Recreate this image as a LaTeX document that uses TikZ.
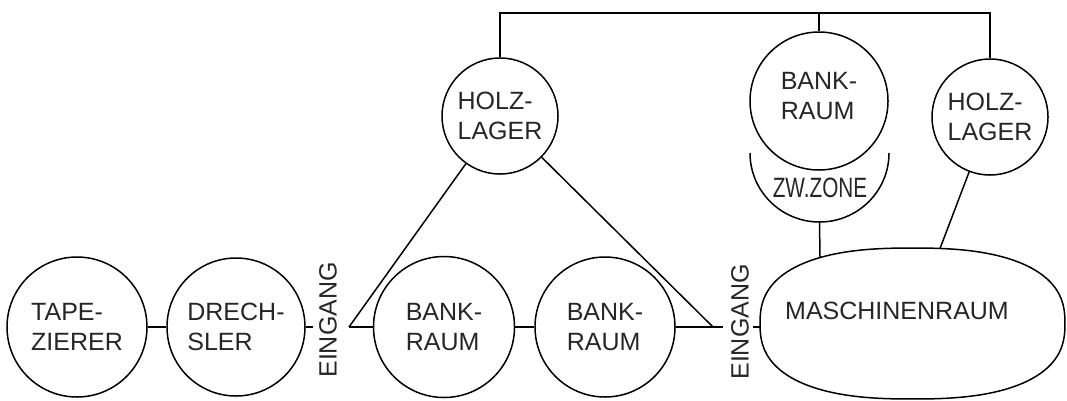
\documentclass[tikz,border=0pt]{standalone}
\usepackage{fontspec}
\setmainfont{Liberation Sans}
\newcommand\lettr{\fontsize{25}{30}\selectfont}
\begin{document}
\begin{tikzpicture}[x=1pt,y=-1pt,
  ln/.style={line width=1.5pt, black},
  room/.style={circle, draw, line width=1.5pt, inner sep=0pt, align=left, font=\lettr, text=black!85},
  lbl/.style={font=\lettr, inner sep=0pt, text=black!85}]
\useasboundingbox (0,0) rectangle (1067,400);
% rooms
\node[room, minimum size=140pt] (tap) at (77,327) {TAPE-\\ZIERER};
\node[room, minimum size=138pt] (dre) at (236,327) {DRECH-\\SLER};
\node[room, minimum size=141pt] (bk1) at (444,327) {BANK-\\RAUM};
\node[room, minimum size=140pt] (bk2) at (605,327) {BANK-\\RAUM};
\node[room, minimum size=116pt] (hl1) at (500,116) {HOLZ-\\LAGER};
\node[room, minimum size=138pt] (bk3) at (819,101) {};
\node[lbl, align=left] (bk3t) at (819,96) {BANK-\\RAUM};
\node[room, minimum size=116pt] (hl2) at (990,117) {HOLZ-\\LAGER};
% entrances
\node[lbl, rotate=90] (e1) at (328,320) {EINGANG};
\node[lbl, rotate=90] (e2) at (740,322) {EINGANG};
% coordinates
\coordinate (e1w) at (313,327);
\coordinate (e1e) at (349,327);
\coordinate (e2w) at (723,327);
\coordinate (v2) at (713,327);
\coordinate (e2e) at (753,327);
\coordinate (mw) at (760,327);
\coordinate (mt1) at (820,257);
\coordinate (mt2) at (940,248.5);
\coordinate (t1) at (500,13);
\coordinate (t2) at (819,13);
\coordinate (t3) at (990,13);
\coordinate (zwl) at (750,153);
\coordinate (zwb) at (819.5,222);
% machine room
\draw[ln] plot[domain=1:359, samples=180] ({912.5+152.5*cos(\x)/(abs(cos(\x))^0.2)}, {323.5+75.5*sin(\x)/(abs(sin(\x))^0.2)}) -- cycle;
\node[lbl] (mr) at (897,311) {MASCHINENRAUM};
% intermediate zone
\draw[ln] (zwl) arc[start angle=180, end angle=360, x radius=69.5pt, y radius=69pt];
\node[lbl, font=\fontsize{28}{30}\selectfont] (zw) at (820,188) {\scalebox{0.74}[1]{ZW.ZONE}};
% connectors
\draw[ln] (tap) -- (dre);
\draw[ln] (dre) -- (e1w);
\draw[ln] (e1e) -- (bk1);
\draw[ln] (bk1) -- (bk2);
\draw[ln] (bk2) -- (e2w);
\draw[ln] (e2e) -- (mw);
\draw[ln] (hl1) -- (e1e);
\draw[ln] (hl1) -- (v2);
\draw[ln] (hl1) -- (t1) -- (t3) -- (hl2);
\draw[ln] (t2) -- (bk3);
\draw[ln] (zwb) -- (mt1);
\draw[ln] (hl2) -- (mt2);
\end{tikzpicture}
\end{document}
